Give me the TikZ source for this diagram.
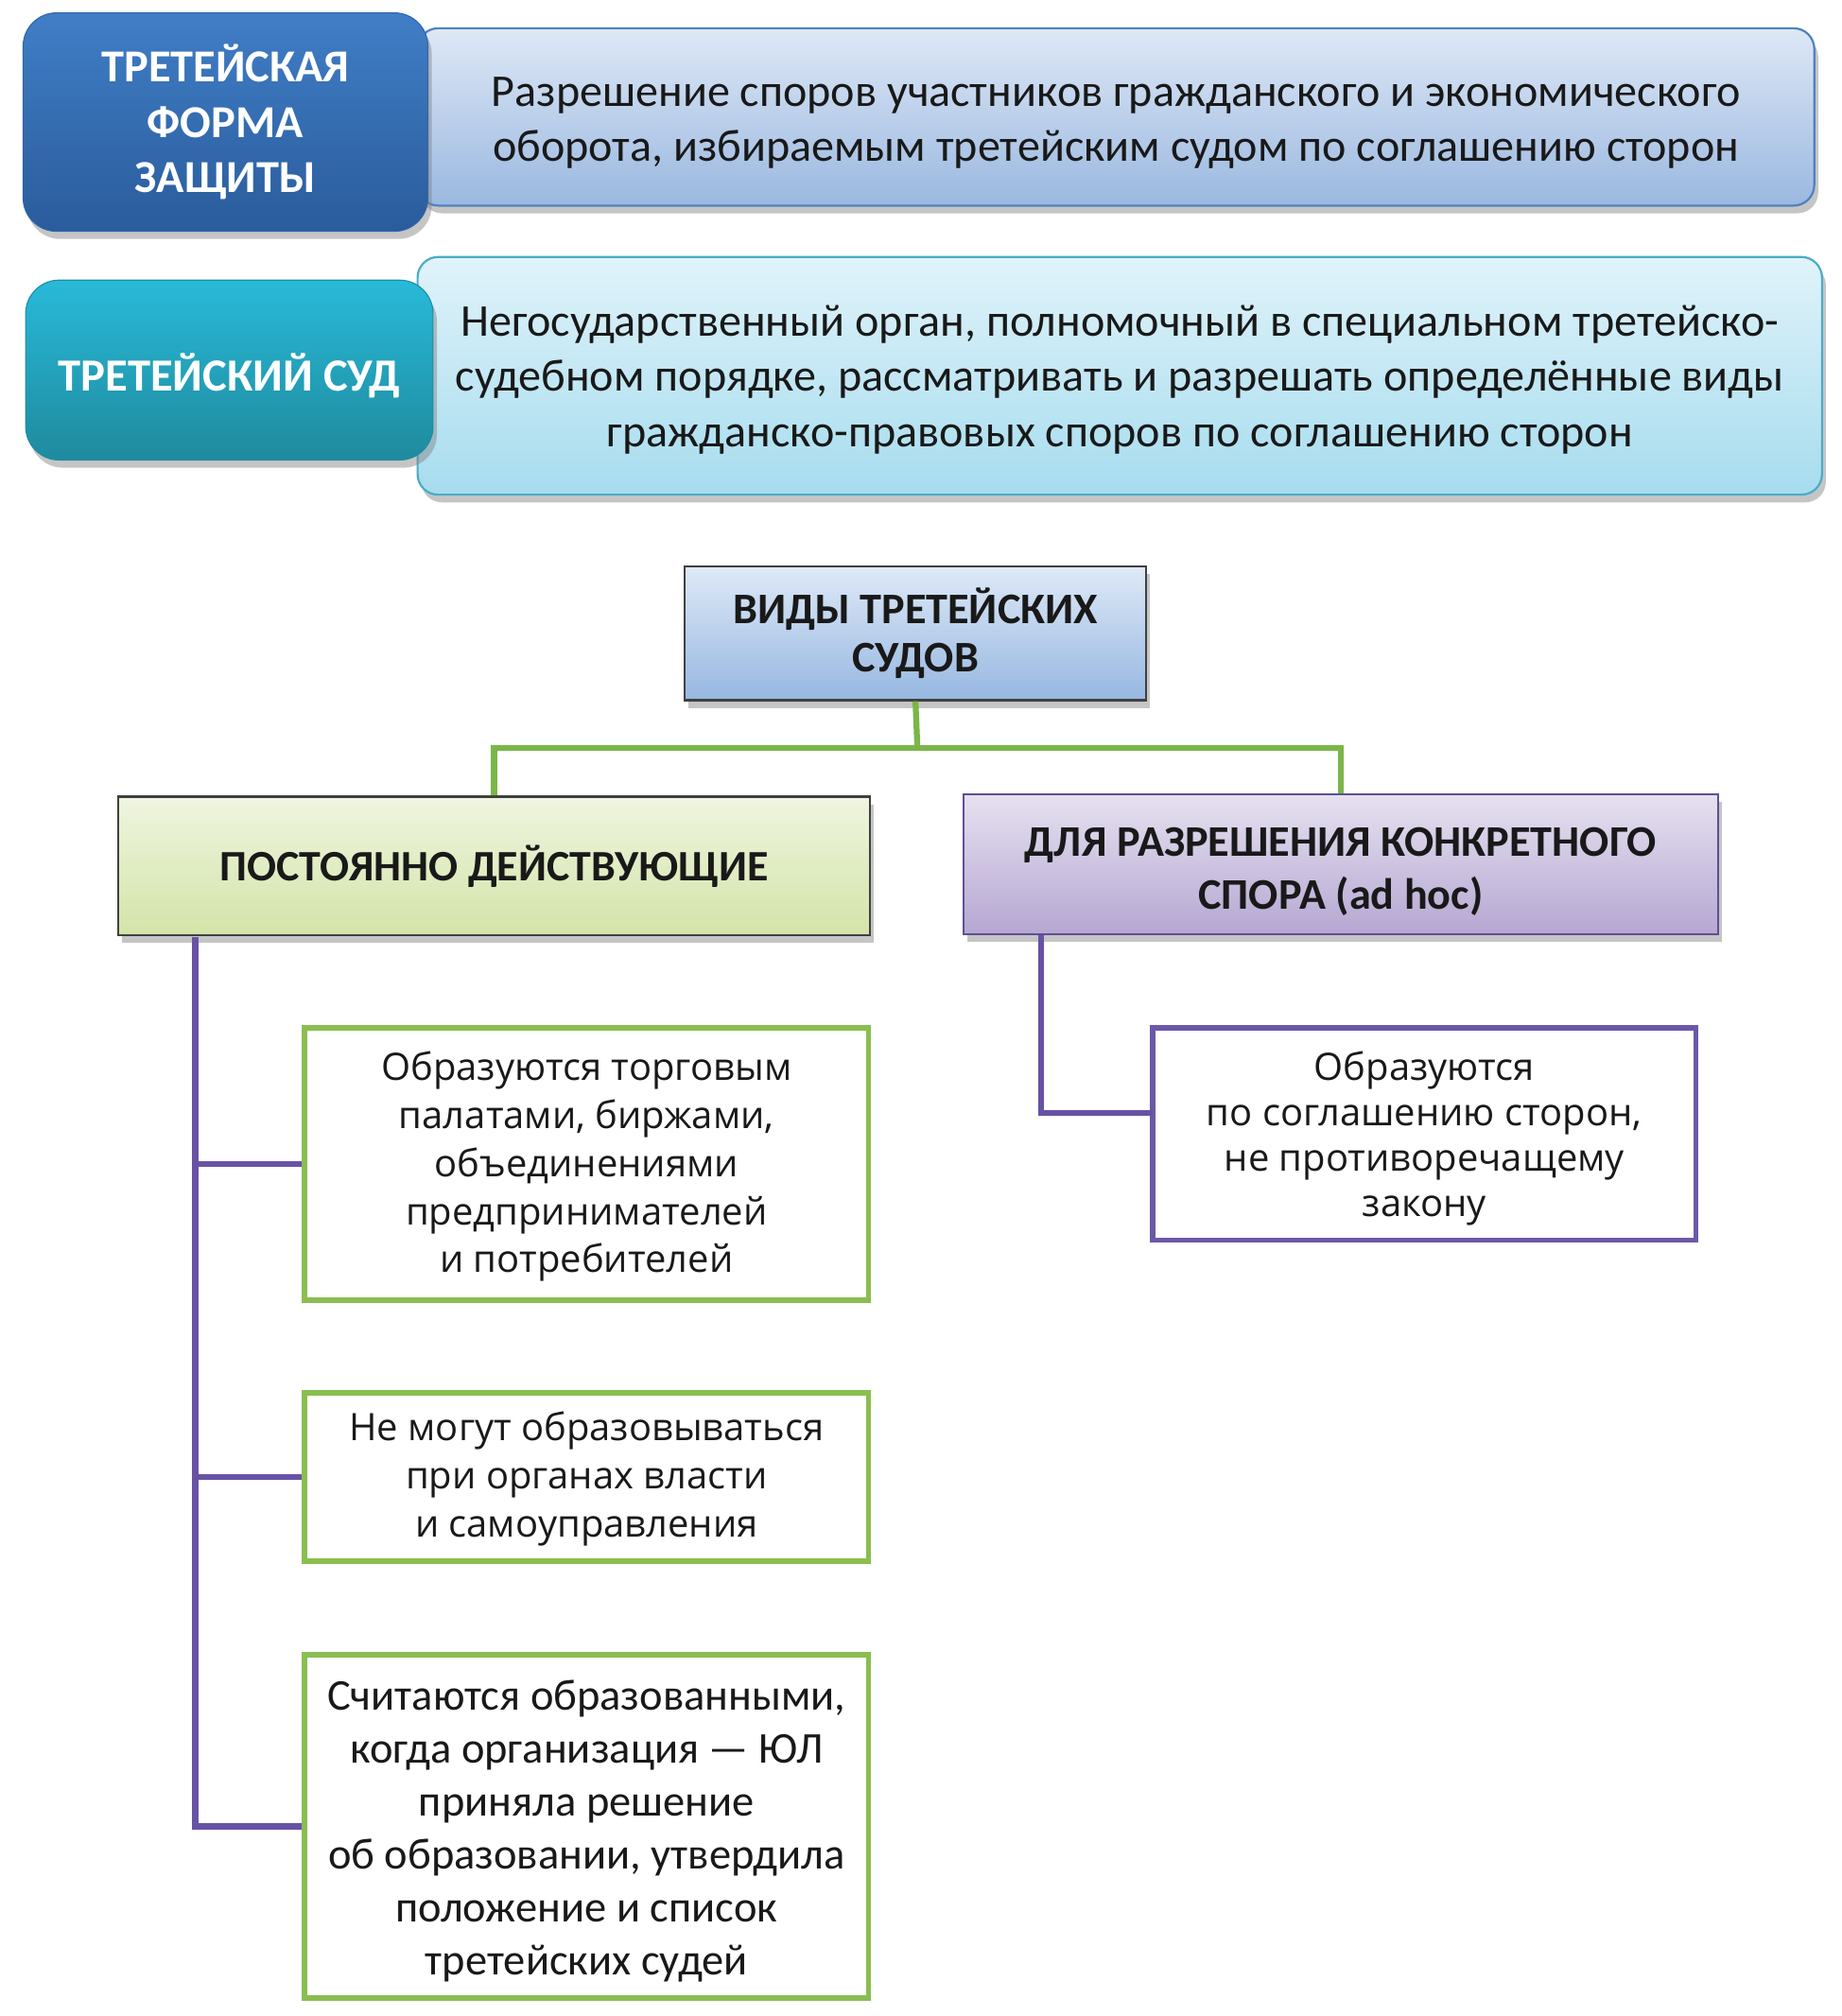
\documentclass[tikz,border=0pt]{standalone}
\usepackage{fontspec}
\setmainfont{Carlito}
\newfontfamily\opensans{Open Sans}
\usetikzlibrary{shadows}
\definecolor{gline}{RGB}{122,182,72}
\definecolor{pline}{RGB}{104,82,164}
\definecolor{gbord}{RGB}{138,190,80}
\definecolor{pbord}{RGB}{108,88,168}
\definecolor{txt}{RGB}{25,25,25}
\begin{document}
\begin{tikzpicture}[x=0.5pt,y=-0.5pt,
  shad/.style={drop shadow={opacity=0.45,shadow xshift=1.5pt,shadow yshift=-3pt}},
  headbox/.style={rounded corners=13pt,shad,inner sep=0pt},
  headtext/.style={align=center,text=white,font=\bfseries\fontsize{17.8}{21.4}\selectfont,inner sep=0pt},
  descbox/.style={rounded corners=8pt,shad,inner sep=0pt,line width=0.8pt},
  desctext/.style={align=center,text=txt,font=\fontsize{17.7}{21.5}\selectfont,inner sep=0pt},
  catbox/.style={shad,inner sep=0pt,line width=0.8pt},
  cattext/.style={align=center,text=txt,font=\bfseries\fontsize{17}{20.4}\selectfont,inner sep=0pt},
  itembox/.style={draw=gbord,line width=2pt,fill=white,inner sep=0pt,
    drop shadow={opacity=0.25,shadow xshift=0pt,shadow yshift=1pt}},
  itemtext/.style={align=center,text=txt,inner sep=0pt},
  gconn/.style={draw=gline,line width=2.3pt},
  pconn/.style={draw=pline,line width=2.3pt}]
\useasboundingbox (0,0) rectangle (1433.5,1569);
\fill[white] (0,0) rectangle (1433.5,1569);

% top row
\node[descbox,draw={rgb,255:red,79;green,129;blue,189},top color={rgb,255:red,222;green,232;blue,246},bottom color={rgb,255:red,154;green,184;blue,224},
  minimum width=543.5pt,minimum height=69pt] (B) at (868.5,91) {};
\node[desctext] (Bt) at ([yshift=-2.25pt]B.center)
  {Разрешение споров участников гражданского и экономического\\оборота, избираемым третейским судом по соглашению сторон};
\node[headbox,draw={rgb,255:red,50;green,100;blue,170},top color={rgb,255:red,64;green,126;blue,198},bottom color={rgb,255:red,42;green,92;blue,156},
  minimum width=157.5pt,minimum height=85pt] (A) at (175.5,95) {};
\node[headtext] (At) at (A.center) {ТРЕТЕЙСКАЯ\\ФОРМА\\ЗАЩИТЫ};

% second row
\node[descbox,draw={rgb,255:red,75;green,172;blue,198},top color={rgb,255:red,224;green,243;blue,250},bottom color={rgb,255:red,166;green,220;blue,238},
  minimum width=546.5pt,minimum height=92.5pt] (D) at (871.5,292.5) {};
\node[desctext] (Dt) at ([yshift=-1.5pt]D.center)
  {Негосударственный орган, полномочный в специальном третейско-\\судебном порядке, рассматривать и разрешать определённые виды\\гражданско-правовых споров по соглашению сторон};
\node[headbox,draw={rgb,255:red,30;green,140;blue,165},top color={rgb,255:red,40;green,186;blue,216},bottom color={rgb,255:red,31;green,138;blue,158},
  minimum width=158.5pt,minimum height=70pt] (C) at (178.5,288) {};
\node[headtext,font=\bfseries\fontsize{17.9}{21.4}\selectfont] (Ct) at ([yshift=-2.25pt]C.center) {ТРЕТЕЙСКИЙ СУД};

% categories
\node[catbox,draw={rgb,255:red,64;green,64;blue,64},top color={rgb,255:red,222;green,233;blue,247},bottom color={rgb,255:red,150;green,183;blue,225},
  minimum width=179.5pt,minimum height=52pt] (E) at (712.5,493) {};
\node[cattext,font=\bfseries\fontsize{17}{18.9}\selectfont] (Et) at (E.center) {ВИДЫ ТРЕТЕЙСКИХ\\СУДОВ};
\node[catbox,draw={rgb,255:red,64;green,64;blue,64},top color={rgb,255:red,239;green,245;blue,224},bottom color={rgb,255:red,211;green,228;blue,168},
  minimum width=292.5pt,minimum height=54pt] (F) at (384.5,674) {};
\node[cattext,font=\bfseries\fontsize{16.9}{20}\selectfont] (Ft) at (F.center) {ПОСТОЯННО ДЕЙСТВУЮЩИЕ};
\node[catbox,draw={rgb,255:red,96;green,78;blue,150},top color={rgb,255:red,230;green,225;blue,240},bottom color={rgb,255:red,182;green,167;blue,210},
  minimum width=293.5pt,minimum height=54.5pt] (G) at (1043.5,672.5) {};
\node[cattext] (Gt) at ([yshift=-3pt]G.center) {ДЛЯ РАЗРЕШЕНИЯ КОНКРЕТНОГО\\СПОРА (ad hoc)};

% items
\node[itembox,minimum width=219.5pt,minimum height=106pt] (H1) at (456.5,906) {};
\node[itemtext,font=\opensans\fontsize{14.7}{18.67}\selectfont] (H1t) at ([yshift=-1pt]H1.center)
  {Образуются торговым\\палатами, биржами,\\объединениями\\предпринимателей\\и потребителей};
\node[itembox,minimum width=219.5pt,minimum height=65.5pt] (H2) at (456.5,1149.5) {};
\node[itemtext,font=\opensans\fontsize{14.7}{18.9}\selectfont] (H2t) at ([yshift=-0.75pt]H2.center)
  {Не могут образовываться\\при органах власти\\и самоуправления};
\node[itembox,minimum width=219.5pt,minimum height=133.5pt] (H3) at (456.5,1421.5) {};
\node[itemtext,font=\fontsize{17.1}{20.6}\selectfont] (H3t) at ([yshift=-1.75pt]H3.center)
  {Считаются образованными,\\когда организация — ЮЛ\\приняла решение\\об образовании, утвердила\\положение и список\\третейских судей};
\node[itembox,draw=pbord,minimum width=211.5pt,minimum height=82.5pt] (I) at (1108.5,882.5) {};
\node[itemtext,font=\opensans\fontsize{14.7}{17.6}\selectfont] (It) at ([yshift=-1.75pt]I.center)
  {Образуются\\по соглашению сторон,\\не противоречащему\\закону};

% connectors
\coordinate (jg) at (714,582);
\draw[gconn] (E.south) -- (jg);
\draw[gconn] (F.north) |- (jg) -| (G.north);
\coordinate (pl) at (152,729);
\draw[pconn] (pl) |- (H3.west);
\draw[pconn] (pl |- H1.west) -- (H1.west);
\draw[pconn] (pl |- H2.west) -- (H2.west);
\coordinate (pr) at (810,728);
\coordinate (ib) at (897,866);
\draw[pconn] (pr) |- (ib);
\end{tikzpicture}
\end{document}
